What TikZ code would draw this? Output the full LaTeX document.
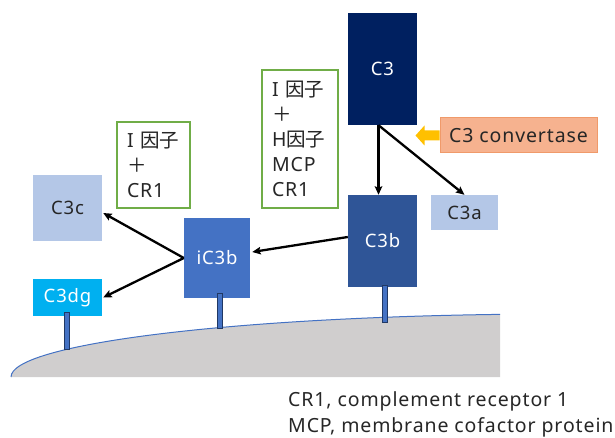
\documentclass[tikz,border=0pt]{standalone}
\usepackage{fontspec}
\setmainfont{Noto Sans}[LetterSpace=4.5]
\newfontfamily\cjk{Noto Sans CJK JP}
\usetikzlibrary{arrows.meta,calc}

\definecolor{navy}{HTML}{002060}
\definecolor{midblue}{HTML}{2F5597}
\definecolor{accblue}{HTML}{4472C4}
\definecolor{paleblue}{HTML}{B4C7E7}
\definecolor{skyblue}{HTML}{00B0F0}
\definecolor{salmon}{HTML}{F6B28F}
\definecolor{salmonedge}{HTML}{F09A6A}
\definecolor{gold}{HTML}{FFC000}
\definecolor{leaf}{HTML}{70AD47}
\definecolor{cellgray}{HTML}{D0CECE}
\definecolor{stalkedge}{HTML}{203864}
\definecolor{ink}{HTML}{262626}

\tikzset{
  mol/.style={rectangle, inner sep=0pt, draw=none, text=white,
    font=\fontsize{18.5}{22}\selectfont},
  palemol/.style={mol, fill=paleblue, text=ink},
  factorbox/.style={rectangle, draw=leaf, line width=1.2pt, fill=white,
    align=left, inner xsep=10pt, inner ysep=0pt, text=ink,
    font=\fontsize{19.5}{25}\selectfont},
  stalk/.style={rectangle, inner sep=0pt, minimum width=5pt, fill=accblue,
    draw=stalkedge, line width=0.7pt, anchor=north},
  react/.style={line width=2.3pt, -{Stealth[length=8.5pt,width=7.5pt,inset=1.5pt]}},
  caption/.style={anchor=base west, inner sep=0pt, text=ink,
    font=\fontsize{19.5}{22}\selectfont}
}

\begin{document}
\begin{tikzpicture}[x=1pt,y=1pt]
\useasboundingbox (0,0) rectangle (615,437);

% cell membrane
\fill[cellgray] (11,60) arc[start angle=180, end angle=96.27, x radius=549, y radius=63]
  -- (500,60) -- cycle;
\draw[accblue, line width=1pt] (11,60)
  arc[start angle=180, end angle=96.27, x radius=549, y radius=63];

% complement fragments
\node[mol, fill=navy, minimum width=69pt, minimum height=112pt] (C3) at (382.5,368) {C3};
\node[mol, fill=midblue, minimum width=69pt, minimum height=92pt] (C3b) at (382.5,196) {C3b};
\node[palemol, minimum width=67pt, minimum height=35pt] (C3a) at (464.5,224.5) {C3a};
\node[mol, fill=accblue, minimum width=66pt, minimum height=80pt] (iC3b) at (217,179) {iC3b};
\node[palemol, minimum width=69pt, minimum height=66pt] (C3c) at (67.5,229) {C3c};
\node[mol, fill=skyblue, minimum width=69pt, minimum height=37pt] (C3dg) at (67.5,139.5) {C3dg};

% convertase with its pointer
\node[mol, fill=salmon, draw=salmonedge, line width=1pt, text=ink,
  font=\fontsize{19.5}{22}\selectfont,
  minimum width=157pt, minimum height=35pt] (conv) at (518.5,301.5) {C3 convertase};
\fill[gold] ([xshift=-24]conv.west) -- ++(9,10) -- ++(0,-5) -- ++(15,0)
  -- ++(0,-10) -- ++(-15,0) -- ++(0,-5) -- cycle;

% cofactor boxes
\node[factorbox, minimum width=76pt, minimum height=138pt, text width=56pt] (cofH) at (300,298)
  {I {\cjk 因子}\\{\cjk ＋}\\H{\cjk 因子}\\MCP\\CR1};
\node[factorbox, minimum width=73pt, minimum height=86pt, text width=53pt] (cofC) at (153.5,272)
  {I {\cjk 因子}\\{\cjk ＋}\\CR1};

% anchoring stalks
\node[stalk, minimum height=37pt] (st1) at ([xshift=-0.75,yshift=4]C3dg.south) {};
\node[stalk, minimum height=35pt] (st2) at ([xshift=2.5,yshift=5]iC3b.south) {};
\node[stalk, minimum height=37pt] (st3) at ([xshift=2.5,yshift=2]C3b.south) {};

% reactions
\draw[react] ([xshift=-4]C3.south) -- ([xshift=-4]C3b.north);
\draw[react] ([xshift=-4]C3.south) -- (C3a.north);
\draw[react] ([yshift=4]C3b.west) -- ([xshift=2,yshift=6]iC3b.east);
\draw[react] (iC3b.west) -- ([xshift=1,yshift=-5]C3c.east);
\draw[react] (iC3b.west) -- ([xshift=1]C3dg.east);

% abbreviations
\node[caption] (abbr1) at (288,31) {CR1, complement receptor 1};
\node[caption] (abbr2) at (288,5) {MCP, membrane cofactor protein};
\end{tikzpicture}
\end{document}
